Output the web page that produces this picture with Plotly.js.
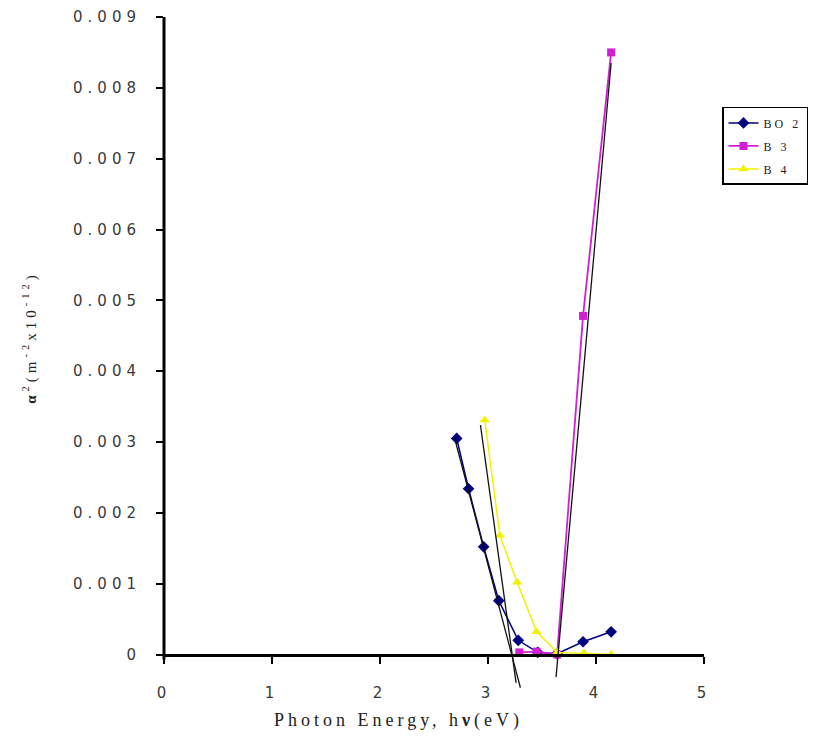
<!DOCTYPE html>
<html>
<head>
<meta charset="utf-8">
<script src="https://cdn.plot.ly/plotly-3.0.1.min.js"></script>
<style>
  html, body { margin: 0; padding: 0; background: #fff; }
  #chart { width: 820px; height: 756px; }
  .ytick text, .xtick text { letter-spacing: 5px; }
  .annotation-text { letter-spacing: 4px; }
  .legendtext { letter-spacing: 3px; }
</style>
</head>
<body>
<div id="chart"></div>
<script>
// ---- data ----
const seriesNames = ["BO 2", "B 3", "B 4"];

const bo2X = [2.71, 2.82, 2.96, 3.10, 3.28, 3.46, 3.64, 3.88, 4.14];
const bo2Y = [0.00305, 0.00234, 0.00152, 0.00076, 0.00020, 0.00003, 0.00001, 0.00018, 0.00032];

const b3X = [3.29, 3.45, 3.64, 3.88, 4.14];
const b3Y = [0.00003, 0.00004, 0.0, 0.00478, 0.00850];

const b4X = [2.97, 3.11, 3.27, 3.45, 3.64, 3.89, 4.14];
const b4Y = [0.00331, 0.00168, 0.00102, 0.00032, 0.00003, 0.00002, 0.0];

// hand-drawn extrapolation (tangent) lines
const fitAX = [2.69, 3.30], fitAY = [0.00306, -0.00047];
const fitBX = [2.93, 3.26], fitBY = [0.00324, -0.00040];
const fitCX = [4.14, 3.63], fitCY = [0.00835, -0.00032];

const xTickVals = [0, 1, 2, 3, 4, 5];
const xTickText = ["0", "1", "2", "3", "4", "5"];
const yTickVals = [0, 0.001, 0.002, 0.003, 0.004, 0.005, 0.006, 0.007, 0.008, 0.009];
const yTickText = ["0", "0.001", "0.002", "0.003", "0.004", "0.005", "0.006", "0.007", "0.008", "0.009"];

const xTitle = "Photon Energy, h<b>ν</b>(eV)";
const yTitle = "<b>α</b><sup>2</sup>(m<sup>-2</sup>x10<sup>-12</sup>)";

// ---- layout geometry ----
const yMin = -0.0006, yMax = 0.009;
const zeroPos = (0 - yMin) / (yMax - yMin);

const traces = [
  {x: bo2X, y: bo2Y, name: seriesNames[0], legendgroup: "a", mode: "lines+markers",
   line: {color: "#000080", width: 1.5},
   marker: {symbol: "diamond", size: 9, color: "#000080"}},
  {x: b3X, y: b3Y, name: seriesNames[1], legendgroup: "b", mode: "lines+markers",
   line: {color: "#d21fd2", width: 1.8},
   marker: {symbol: "square", size: 8, color: "#d21fd2"}},
  {x: b4X, y: b4Y, name: seriesNames[2], legendgroup: "c", mode: "lines+markers",
   line: {color: "#f2f200", width: 1.5},
   marker: {symbol: "triangle-up", size: 9, color: "#f2f200"}},
  {x: fitAX, y: fitAY, mode: "lines", showlegend: false, hoverinfo: "skip",
   line: {color: "#111", width: 1.3}},
  {x: fitBX, y: fitBY, mode: "lines", showlegend: false, hoverinfo: "skip",
   line: {color: "#111", width: 1.3}},
  {x: fitCX, y: fitCY, mode: "lines", showlegend: false, hoverinfo: "skip",
   line: {color: "#111", width: 1.3}}
];

const tickFont = {family: "DejaVu Sans", size: 15, color: "#3a3a3a"};

const layout = {
  width: 820, height: 756,
  margin: {l: 164, r: 116, t: 17, b: 58.5},
  paper_bgcolor: "#fff", plot_bgcolor: "#fff",
  showlegend: true,
  xaxis: {
    range: [0, 5], anchor: "free", position: zeroPos,
    tickvals: xTickVals, ticktext: xTickText,
    showgrid: false, zeroline: false,
    showline: true, linecolor: "#000", linewidth: 3,
    ticks: "outside", ticklen: 7, tickwidth: 2, tickcolor: "#000",
    tickfont: tickFont, ticklabelstandoff: 16
  },
  yaxis: {
    range: [yMin, yMax],
    tickvals: yTickVals, ticktext: yTickText,
    showgrid: false, zeroline: false, showline: false,
    ticks: "outside", ticklen: 7, tickwidth: 2, tickcolor: "#000",
    tickfont: tickFont, ticklabelstandoff: 12
  },
  shapes: [
    {type: "line", xref: "paper", yref: "y", x0: 0, x1: 0, y0: -0.00007, y1: yMax,
     line: {color: "#000", width: 3}}
  ],
  annotations: [
    {text: xTitle, xref: "paper", yref: "paper",
     x: (398 - 164) / 540, y: -(721 - 697.5) / 680.5,
     xanchor: "center", yanchor: "middle", showarrow: false,
     font: {family: "Liberation Serif", size: 18, color: "#222"}},
    {text: yTitle, xref: "paper", yref: "paper",
     x: (30 - 164) / 540, y: (697.5 - 338) / 680.5,
     xanchor: "center", yanchor: "middle", showarrow: false, textangle: -90,
     font: {family: "Liberation Serif", size: 15, color: "#222"}}
  ],
  legend: {
    x: (722 - 164) / 540, y: (697.5 - 107) / 680.5,
    xanchor: "left", yanchor: "top",
    bordercolor: "#000", borderwidth: 1.5, bgcolor: "#fff",
    font: {family: "Liberation Serif", size: 12, color: "#222"},
    itemwidth: 30, tracegroupgap: 4,
    entrywidth: 130, entrywidthmode: "pixels"
  }
};

Plotly.newPlot("chart", traces, layout, {displayModeBar: false, staticPlot: true});
</script>
</body>
</html>
